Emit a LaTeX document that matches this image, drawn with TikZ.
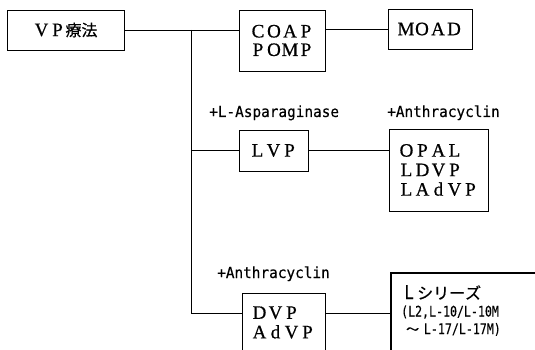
\documentclass[tikz,border=0pt]{standalone}
\usepackage{fontspec}
\setmainfont{Liberation Serif}[FakeBold=0.6]
\newfontfamily\cjk{Noto Sans CJK JP}[FakeBold=0.5]
\newfontfamily\gm{DejaVu Sans Mono}[FakeStretch=0.94, FakeBold=0.3]
\newfontfamily\gmc{DejaVu Sans Mono}[FakeStretch=0.8, FakeBold=0.3]
\def\fwend{FWEND}
\newcommand\fw[1]{\fwloop#1\fwend}
\def\fwloop#1{\ifx#1\fwend\else\makebox[16pt]{#1}\expandafter\fwloop\fi}
\newcommand\fwsz{\fontsize{19}{19.5}\selectfont}
\newcommand\kj[1]{{\cjk\fontsize{16}{19.5}\selectfont\fw{#1}}}
\begin{document}
\begin{tikzpicture}[x=1pt,y=-1pt,
  box/.style={draw, line width=0.95pt, inner sep=0pt, align=left, font=\fwsz},
  lab/.style={anchor=base west, inner sep=0pt, font=\gm\fontsize{15.3}{16}\selectfont},
  conn/.style={line width=0.95pt}]
\clip (0,0) rectangle (535,350);
% boxes
\node[box, minimum width=117pt, minimum height=40pt] (vp) at (65.5,30) {\fw{VP}\kj{療法}};
\node[box, minimum width=86pt, minimum height=61pt, font=\fontsize{19}{18.5}\selectfont] (coap) at (282,40.5) {\fw{COAP}\\\fw{POMP}};
\node[box, minimum width=84pt, minimum height=40pt] (moad) at (430,29) {\fw{MOAD}};
\node[box, minimum width=69pt, minimum height=41pt] (lvp) at (273.5,150.5) {\fw{LVP}};
\node[box, minimum width=99pt, minimum height=82pt] (opal) at (438.5,170) {\fw{OPAL}\\\fw{LDVP}\\\fw{LAdVP}};
\node[box, minimum width=83pt, minimum height=59pt] (dvp) at (283.5,322.5) {\fw{DVP}\\\fw{AdVP}};
\node[draw, line width=2.3pt, anchor=north west, align=left, inner xsep=10pt, inner ysep=12pt,
      text width=150pt, text depth=80pt, font=\gmc\fontsize{14.5}{17.5}\selectfont] (lser) at (390,272)
  {{\fwsz\fw{L}}\kj{シリーズ}\\(L2,L-10/L-10M\\\hspace*{5pt}{\cjk\fontsize{13}{17.5}\selectfont ～} L-17/L-17M)};
% labels
\node[lab] (lasp) at (209,117) {+L-Asparaginase};
\node[lab] (anth1) at (387,117) {+Anthracyclin};
\node[lab] (anth2) at (217,278) {+Anthracyclin};
% connectors
\coordinate (ttop) at (191,30);
\coordinate (tbot) at (191,313);
\draw[conn] (vp.east) -- (vp.east -| coap.west);
\draw[conn] (ttop) -- (tbot) -- (tbot -| dvp.west);
\draw[conn] (ttop |- lvp.west) -- (lvp.west);
\draw[conn] (lvp.east) -- (lvp.east -| opal.west);
\draw[conn] (moad.west -| coap.east) -- (moad.west);
\draw[conn] (tbot -| dvp.east) -- (tbot -| lser.west);
\end{tikzpicture}
\end{document}
